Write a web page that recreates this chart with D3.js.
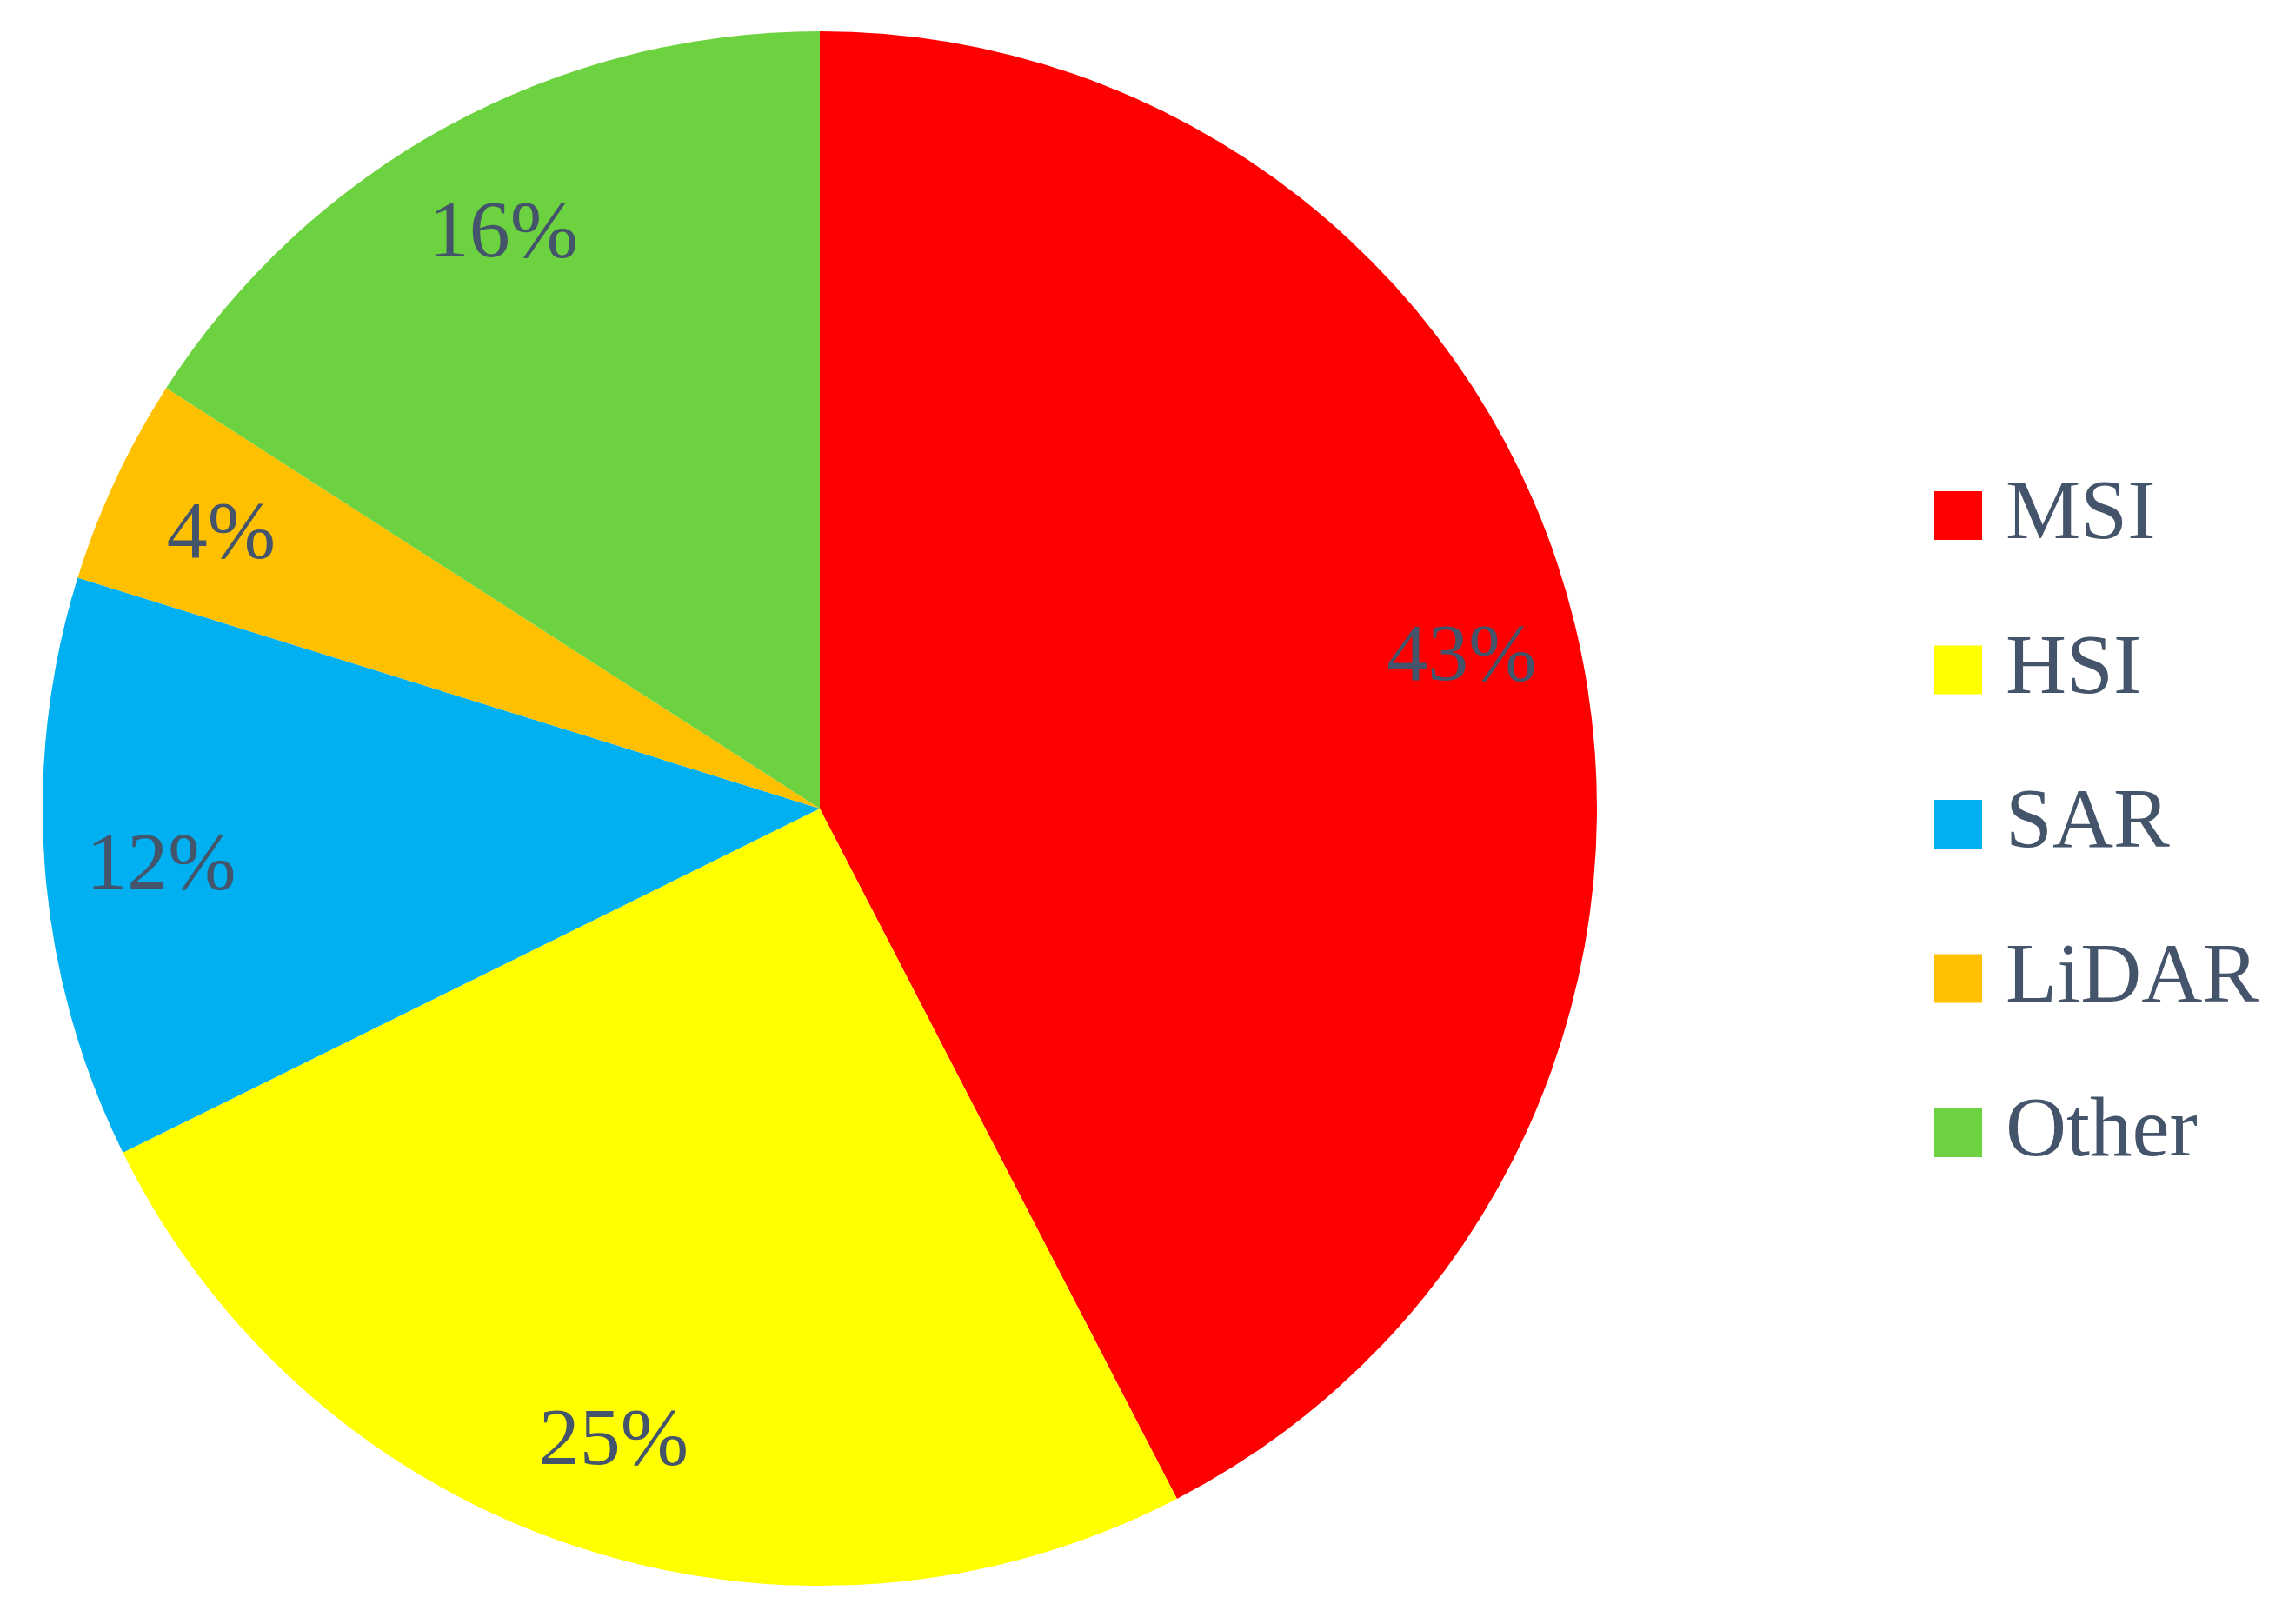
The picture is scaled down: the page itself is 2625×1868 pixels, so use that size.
<!DOCTYPE html>
<html>
<head>
<meta charset="utf-8">
<script src="https://cdn.jsdelivr.net/npm/d3@7"></script>
<style>
  body { margin: 0; background: #fff; }
  text { font-family: "Liberation Serif", "Times New Roman", serif; fill: #44546A; }
</style>
</head>
<body>
<svg id="chart"></svg>
<script>
var WIDTH = 2625;
var HEIGHT = 1868;

// categories, slice sizes (measured from the slice angles) and the printed labels
var categories = ["MSI", "HSI", "SAR", "LiDAR", "Other"];
var values = [42.4, 25.3, 12.1, 4.3, 15.9];
var pctLabels = ["43%", "25%", "12%", "4%", "16%"];
var colors = ["#FF0000", "#FFFF00", "#00B0F0", "#FFC000", "#6CD23F"];

var svg = d3.select("#chart")
    .attr("width", WIDTH)
    .attr("height", HEIGHT);

var cx = 943, cy = 930, radius = 894;

var data = categories.map(function(c, i) {
    return {name: c, value: values[i], label: pctLabels[i], color: colors[i]};
});

//keep the given order, start at 12 o'clock and go clockwise
var pie = d3.pie()
    .sort(null)
    .value(function(d) { return d.value; });

var arc = d3.arc().innerRadius(0).outerRadius(radius);
var labelArc = d3.arc().innerRadius(radius * 0.85).outerRadius(radius * 0.85);

var g = svg.append("g").attr("transform", "translate(" + cx + "," + cy + ")");

var arcs = pie(data);

g.selectAll("path")
    .data(arcs)
    .enter()
    .append("path")
    .attr("d", arc)
    .attr("fill", function(d) { return d.data.color; });

g.selectAll("text.pct")
    .data(arcs)
    .enter()
    .append("text")
    .attr("class", "pct")
    .attr("transform", function(d) { return "translate(" + labelArc.centroid(d) + ")"; })
    .attr("text-anchor", "middle")
    .attr("dominant-baseline", "central")
    .style("font-size", "94px")
    .text(function(d) { return d.data.label; });

//legend on the right
var legendY = d3.scalePoint()
    .domain(categories)
    .range([593, 1303]);

var legend = svg.append("g").selectAll("g")
    .data(data)
    .enter()
    .append("g")
    .attr("transform", function(d) { return "translate(2225," + legendY(d.name) + ")"; });

legend.append("rect")
    .attr("x", 0)
    .attr("y", -28)
    .attr("width", 55)
    .attr("height", 56)
    .attr("fill", function(d) { return d.color; });

legend.append("text")
    .attr("x", 82)
    .attr("y", 26)
    .style("font-size", "97px")
    .text(function(d) { return d.name; });
</script>
</body>
</html>
